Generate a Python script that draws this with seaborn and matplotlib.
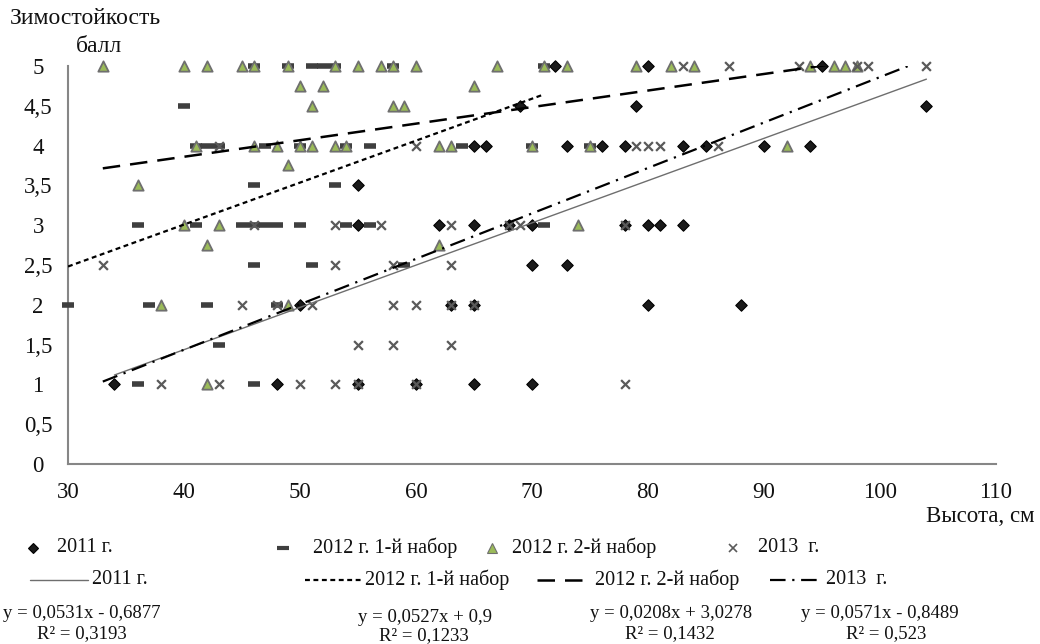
import matplotlib
matplotlib.use("Agg")
import matplotlib.pyplot as plt
from matplotlib.lines import Line2D
import seaborn as sns
import pandas as pd
import numpy as np

# ---------------- data ----------------
x_2011 = [34, 48, 55, 60, 65, 70,
          50, 63, 65, 80, 88,
          70, 73,
          55, 62, 65, 68, 70, 78, 80, 81, 83,
          55,
          65, 66, 73, 76, 78, 83, 85, 90, 94,
          69, 79, 104,
          72, 80, 95]
y_2011 = [1, 1, 1, 1, 1, 1,
          2, 2, 2, 2, 2,
          2.5, 2.5,
          3, 3, 3, 3, 3, 3, 3, 3, 3,
          3.5,
          4, 4, 4, 4, 4, 4, 4, 4, 4,
          4.5, 4.5, 4.5,
          5, 5, 5]

x_2012a = [36, 46,
           43,
           30, 37, 42, 48,
           46, 51, 59,
           36, 41, 45, 46, 47, 48, 50, 54, 56, 71,
           46, 53,
           41, 42, 43, 47, 50, 54, 56, 64, 70, 75,
           40,
           46, 49, 51, 52, 53, 58, 71]
y_2012a = [1, 1,
           1.5,
           2, 2, 2, 2,
           2.5, 2.5, 2.5,
           3, 3, 3, 3, 3, 3, 3, 3, 3, 3,
           3.5, 3.5,
           4, 4, 4, 4, 4, 4, 4, 4, 4, 4,
           4.5,
           5, 5, 5, 5, 5, 5, 5]

x_2012b = [42, 38, 49,
           42, 62,
           40, 43, 74,
           36, 49,
           41, 46, 48, 50, 51, 53, 54, 62, 63, 70, 75, 92,
           51, 58, 59,
           50, 52, 65,
           33, 40, 42, 45, 46, 49, 53, 55, 57, 58, 60, 67, 71, 73, 79, 82, 84, 94, 96, 97, 98]
y_2012b = [1, 2, 2,
           2.75, 2.75,
           3, 3, 3,
           3.5, 3.75,
           4, 4, 4, 4, 4, 4, 4, 4, 4, 4, 4, 4,
           4.5, 4.5, 4.5,
           4.75, 4.75, 4.75,
           5, 5, 5, 5, 5, 5, 5, 5, 5, 5, 5, 5, 5, 5, 5, 5, 5, 5, 5, 5, 5]

x_2013 = [38, 43, 50, 53, 55, 60, 78,
          55, 58, 63,
          45, 48, 51, 58, 60, 63, 65,
          33, 53, 58, 63,
          46, 53, 57, 63, 68, 69, 78,
          43, 60, 79, 80, 81, 86,
          83, 87, 93, 98, 99, 104]
y_2013 = [1, 1, 1, 1, 1, 1, 1,
          1.5, 1.5, 1.5,
          2, 2, 2, 2, 2, 2, 2,
          2.5, 2.5, 2.5, 2.5,
          3, 3, 3, 3, 3, 3, 3,
          4, 4, 4, 4, 4, 4,
          5, 5, 5, 5, 5, 5]

series_labels = ["2011 г.", "2012 г. 1-й набор", "2012 г. 2-й набор", "2013  г."]
trend_slope = [0.0531, 0.0527, 0.0208, 0.0571]
trend_intercept = [-0.6877, 0.9, 3.0278, -0.8489]
trend_xrange = [(34, 104), (30, 71), (33, 98), (33, 104)]
trend_eq = ["y = 0,0531x - 0,6877", "y = 0,0527x + 0,9",
            "y = 0,0208x + 3,0278", "y = 0,0571x - 0,8489"]
trend_r2 = ["R² = 0,3193", "R² = 0,1233", "R² = 0,1432", "R² = 0,523"]

x_ticks = [30, 40, 50, 60, 70, 80, 90, 100, 110]
y_ticks = [0, 0.5, 1, 1.5, 2, 2.5, 3, 3.5, 4, 4.5, 5]
y_tick_labels = ["0", "0,5", "1", "1,5", "2", "2,5", "3", "3,5", "4", "4,5", "5"]

# ---------------- style ----------------
sns.set_style("white")
plt.rcParams["font.family"] = ["Liberation Serif", "DejaVu Serif"]

W, H = 1040, 644
fig = plt.figure(figsize=(W / 100, H / 100), dpi=100)
ax = fig.add_axes([68 / W, 1 - 464 / H, (996 - 68) / W, (464 - 66) / H])

AXIS_GRAY = "#868686"
styles = [
    dict(marker="D", s=34, color="#1a1a1a", edgecolor="#000000", linewidth=0.8),
    dict(marker="_", s=80, color="#3f3f3f", linewidth=4.0),
    dict(marker="^", s=55, color="#9bbb59", edgecolor="#6f6f6f", linewidth=1.3),
    dict(marker="x", s=40, color="#5a5a5a", linewidth=1.6),
]
line_styles = [
    dict(color="#6e6e6e", linewidth=1.0, linestyle="-"),
    dict(color="#000000", linewidth=1.6, linestyle=(0, (2.2, 1.6))),
    dict(color="#000000", linewidth=1.8, linestyle=(0, (7, 4))),
    dict(color="#000000", linewidth=1.6, linestyle=(0, (7, 3, 1, 3))),
]

xs = [x_2011, x_2012a, x_2012b, x_2013]
ys = [y_2011, y_2012a, y_2012b, y_2013]

for i in range(4):
    df = pd.DataFrame({"x": xs[i], "y": ys[i]})
    sns.scatterplot(data=df, x="x", y="y", ax=ax, clip_on=False, zorder=3 + i,
                    legend=False, **styles[i])

for i in range(4):
    x0, x1 = trend_xrange[i]
    tx = np.array([x0, x1], dtype=float)
    ty = trend_slope[i] * tx + trend_intercept[i]
    ax.plot(tx, ty, zorder=10, **line_styles[i])

ax.set_xlim(30, 110)
ax.set_ylim(0, 5)
ax.set_xticks(x_ticks)
ax.set_xticklabels([str(v) for v in x_ticks])
ax.set_yticks(y_ticks)
ax.set_yticklabels(y_tick_labels)
ax.set_xlabel("")
ax.set_ylabel("")

for side in ["top", "right"]:
    ax.spines[side].set_visible(False)
for side in ["left", "bottom"]:
    ax.spines[side].set_color(AXIS_GRAY)
    ax.spines[side].set_linewidth(1.5)

ax.tick_params(axis="both", direction="in", length=4.5, width=1.3,
               color=AXIS_GRAY, labelsize=16.5, labelcolor="#111111")
ax.tick_params(axis="x", pad=13)
ax.tick_params(axis="y", pad=21.5)
for lab in ax.get_yticklabels():
    lab.set_horizontalalignment("center")

# axis titles
def fx(px):
    return px / W

def fy(py):
    return 1 - py / H

fig.text(fx(10), fy(18), "Зимостойкость", fontsize=17, ha="left", va="center", color="#111111")
fig.text(fx(99), fy(47), "балл", fontsize=17, ha="center", va="center", color="#111111")
fig.text(fx(1035), fy(516), "Высота, см", fontsize=16.5, ha="right", va="center", color="#111111")

# ---------------- legend (manual layout) ----------------
row1_y = 548
row2_y = 580
marker_key_x = [33, 283, 492, 733]
marker_text_x = [57, 313, 512, 758]
line_key_x = [(30, 88), (305, 362), (537, 592), (770, 822)]
line_text_x = [92, 365, 595, 826]
key_ms = [5.0, 8, 6.5, 5.5]
key_mk = ["D", "_", "^", "x"]
leg_fs = 14.5

for i in range(4):
    st = styles[i]
    mkw = dict(marker=key_mk[i], markersize=key_ms[i], linestyle="none",
               markerfacecolor=st["color"],
               markeredgecolor=st.get("edgecolor", st["color"]),
               markeredgewidth=(3.0 if key_mk[i] == "_" else 1.2 if key_mk[i] == "x" else 0.8))
    fig.add_artist(Line2D([fx(marker_key_x[i])], [fy(row1_y)], transform=fig.transFigure, **mkw))
    fig.text(fx(marker_text_x[i]), fy(row1_y), series_labels[i], fontsize=leg_fs,
             ha="left", va="center", color="#111111")
    a, b = line_key_x[i]
    fig.add_artist(Line2D([fx(a), fx(b)], [fy(row2_y), fy(row2_y)],
                          transform=fig.transFigure, **line_styles[i]))
    fig.text(fx(line_text_x[i]), fy(row2_y), series_labels[i], fontsize=leg_fs,
             ha="left", va="center", color="#111111")

eq_pos = [(82, 613, 82, 634), (425, 617, 424, 636), (671, 613, 670, 634), (880, 613, 886, 634)]
for i in range(4):
    ex, ey, rx, ry = eq_pos[i]
    fig.text(fx(ex), fy(ey), trend_eq[i], fontsize=13.5, ha="center", va="center", color="#111111")
    fig.text(fx(rx), fy(ry), trend_r2[i], fontsize=13.5, ha="center", va="center", color="#111111")

fig.savefig("out.png", dpi=100, facecolor="white")
